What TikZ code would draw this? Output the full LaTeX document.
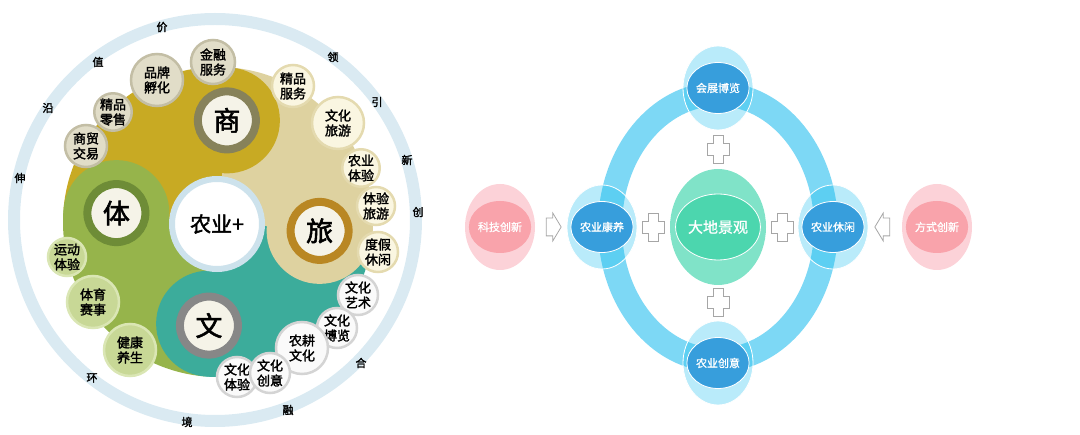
\documentclass[tikz,border=0pt]{standalone}
\usepackage{fontspec}
\setmainfont{Noto Sans CJK SC}
\newfontfamily\cjkbold{Noto Sans CJK SC}[FakeBold=2]
\newfontfamily\cjkmid{Noto Sans CJK SC}[FakeBold=1]
\usetikzlibrary{shapes.geometric,shapes.arrows,calc}

\definecolor{ringgray}{RGB}{218,234,242}
\definecolor{yel}{RGB}{200,170,35}
\definecolor{tan}{RGB}{222,210,160}
\definecolor{teal}{RGB}{60,172,155}
\definecolor{grn}{RGB}{150,180,75}
\definecolor{hubfill}{RGB}{245,243,232}
\definecolor{shangring}{RGB}{135,130,90}
\definecolor{lvring}{RGB}{185,135,35}
\definecolor{wenring}{RGB}{135,135,135}
\definecolor{tiring}{RGB}{110,140,55}
\definecolor{ringblue}{RGB}{125,216,245}
\definecolor{haloblue}{RGB}{22,188,238}
\definecolor{coreblue}{RGB}{55,158,220}
\definecolor{mintout}{RGB}{128,227,200}
\definecolor{mintin}{RGB}{76,214,174}
\definecolor{pinkout}{RGB}{252,210,216}
\definecolor{pinkin}{RGB}{249,163,171}

% left picture
\tikzstyle{hub} = [circle, line width=8pt, fill=hubfill, minimum size=58pt, inner sep=0pt, font=\cjkbold\fontsize{27}{27}\selectfont]
\tikzstyle{bubble} = [circle, line width=2.5pt, inner sep=0pt, align=center, font=\cjkbold\fontsize{13}{15}\selectfont]
\tikzstyle{shangb} = [bubble, fill={rgb,255:red,225;green,221;blue,200}, draw={rgb,255:red,195;green,190;blue,165}]
\tikzstyle{lvb} = [bubble, fill={rgb,255:red,250;green,246;blue,225}, draw={rgb,255:red,228;green,218;blue,175}]
\tikzstyle{wenb} = [bubble, fill={rgb,255:red,250;green,250;blue,250}, draw={rgb,255:red,212;green,212;blue,212}]
\tikzstyle{tib} = [bubble, fill={rgb,255:red,200;green,216;blue,150}, draw={rgb,255:red,218;green,230;blue,180}]
\tikzstyle{ringword} = [font=\cjkbold\fontsize{11}{11}\selectfont]

% right picture
\tikzstyle{halo} = [ellipse, minimum width=70pt, minimum height=84pt, fill=haloblue, fill opacity=0.3, draw=white, line width=0.8pt]
\tikzstyle{core} = [ellipse, minimum width=43pt, minimum height=51pt, fill=coreblue, draw=white, line width=0.8pt, text=white, inner sep=0pt, font=\cjkmid\fontsize{11}{11}\selectfont]
\tikzstyle{pinkhalo} = [ellipse, minimum width=70pt, minimum height=86pt, fill=pinkout]
\tikzstyle{pinkcore} = [ellipse, minimum width=43pt, minimum height=52pt, fill=pinkin, text=white, inner sep=0pt, font=\cjkmid\fontsize{11}{11}\selectfont]
\tikzstyle{blockarrow} = [single arrow, draw=gray!70, fill=white, line width=0.8pt, inner xsep=1pt, inner ysep=8.5pt, minimum height=15pt, single arrow head extend=5pt, single arrow tip angle=118]

\tikzset{plusmark/.pic={
  \draw[gray!70, fill=white, line width=0.8pt] (-5,-14) -- (5,-14) -- (5,-6) -- (11,-6) -- (11,6) -- (5,6) -- (5,14) -- (-5,14) -- (-5,6) -- (-11,6) -- (-11,-6) -- (-5,-6) -- cycle;
}}

\begin{document}
\begin{tikzpicture}[x=1pt, y=-1pt]
	\useasboundingbox (0,0) rectangle (1080,435);

	% outer ring
	\draw[ringgray, line width=12pt] (215,220) circle (201);
	\node[ringword] (w1) at (162,27) {价};
	\node[ringword] (w2) at (98,62) {值};
	\node[ringword] (w3) at (48,108) {沿};
	\node[ringword] (w4) at (20,178) {伸};
	\node[ringword] (w5) at (333,57) {领};
	\node[ringword] (w6) at (377,102) {引};
	\node[ringword] (w7) at (407,160) {新};
	\node[ringword] (w8) at (418,212) {创};
	\node[ringword] (w9) at (361,363) {合};
	\node[ringword] (w10) at (288,410) {融};
	\node[ringword] (w11) at (187,422) {境};
	\node[ringword] (w12) at (92,378) {环};

	% four parts
	\coordinate (c) at (218,222);
	\fill[yel] (c) -- ++(-85:155) arc[start angle=-85, end angle=-175, radius=155] -- cycle;
	\fill[tan] (c) -- ++(5:155) arc[start angle=5, end angle=-85, radius=155] -- cycle;
	\fill[teal] (c) -- ++(95:155) arc[start angle=95, end angle=5, radius=155] -- cycle;
	\fill[grn] (c) -- ++(185:155) arc[start angle=185, end angle=95, radius=155] -- cycle;
	\fill[yel] ($(c)+(-85:102)$) circle (53);
	\fill[tan] ($(c)+(5:102)$) circle (53);
	\fill[teal] ($(c)+(95:102)$) circle (53);
	\fill[grn] ($(c)+(185:102)$) circle (53);

	\node[hub, draw=shangring] (shang) at ($(c)+(-85:102)$) {商};
	\node[hub, draw=lvring] (lv) at ($(c)+(5:102)$) {旅};
	\node[hub, draw=wenring] (wen) at ($(c)+(95:104)$) {文};
	\node[hub, draw=tiring] (ti) at ($(c)+(185:102)$) {体};
	\node[circle, fill=white, draw={rgb,255:red,205;green,226;blue,236}, line width=6pt, minimum size=90pt, font=\cjkbold\fontsize{21}{21}\selectfont] (nongye) at (217,224) {农业+};

	\node[shangb, minimum size=44pt] (jrfw) at (213,62) {金融\\服务};
	\node[shangb, minimum size=52pt] (ppfh) at (157,80) {品牌\\孵化};
	\node[shangb, minimum size=30pt] (jpls) at (113,112) {精品\\零售};
	\node[shangb, minimum size=42pt] (smjy) at (86,146) {商贸\\交易};

	\node[lvb, minimum size=42pt] (jpfw) at (293,86) {精品\\服务};
	\node[lvb, minimum size=52pt] (whly) at (338,123) {文化\\旅游};
	\node[lvb, minimum size=32pt] (nyty) at (361,168) {农业\\体验};
	\node[lvb, minimum size=38pt] (tyly) at (376,206) {体验\\旅游};
	\node[lvb, minimum size=40pt] (djxx) at (378,252) {度假\\休闲};

	\node[wenb, minimum size=40pt] (whys) at (358,295) {文化\\艺术};
	\node[wenb, minimum size=40pt] (whbl) at (337,328) {文化\\博览};
	\node[wenb, minimum size=52pt] (ngwh) at (302,348) {农耕\\文化};
	\node[wenb, minimum size=40pt] (whty) at (237,377) {文化\\体验};
	\node[wenb, minimum size=40pt] (whcy) at (270,373) {文化\\创意};

	\node[tib, minimum size=38pt] (ydty) at (67,257) {运动\\体验};
	\node[tib, minimum size=52pt] (tyss) at (93,302) {体育\\赛事};
	\node[tib, minimum size=52pt] (jkys) at (130,350) {健康\\养生};

	% right picture
	\draw[ringblue, line width=24pt] (718,227) ellipse [x radius=108, y radius=133];

	\node[halo] (hzblh) at (718,88) {};
	\node[halo] (nycyh) at (718,363) {};
	\node[halo] (nyklh) at (602,227) {};
	\node[halo] (nyxxh) at (833,227) {};
	\node[core] (hzbl) at (718,88) {会展博览};
	\node[core] (nycy) at (718,363) {农业创意};
	\node[core] (nykl) at (602,227) {农业康养};
	\node[core] (nyxx) at (833,227) {农业休闲};

	\node[ellipse, fill=mintout, minimum width=96pt, minimum height=116pt] (dajgh) at (718,227) {};
	\node[ellipse, fill=mintin, draw=white, line width=0.8pt, minimum width=60pt, minimum height=66pt, inner sep=0pt, text=white, font=\cjkmid\fontsize{15}{15}\selectfont] (dajg) at (718,227) {大地景观};

	\node[pinkhalo] (kjcxh) at (500,227) {};
	\node[pinkcore] (kjcx) at (500,227) {科技创新};
	\node[pinkhalo] (fscxh) at (937,227) {};
	\node[pinkcore] (fscx) at (937,227) {方式创新};

	\node[blockarrow] (arr1) at ($(kjcx)!0.5!(nykl)$) {};
	\node[blockarrow, shape border rotate=180] (arr2) at ($(fscx)!0.5!(nyxx)$) {};

	\pic at ($(hzblh.south)!0.5!(dajgh.north)$) {plusmark};
	\pic at ($(nycyh.north)!0.5!(dajgh.south)$) {plusmark};
	\pic at ($(nyklh.east)!0.5!(dajgh.west)$) {plusmark};
	\pic at ($(nyxxh.west)!0.5!(dajgh.east)$) {plusmark};
\end{tikzpicture}
\end{document}
